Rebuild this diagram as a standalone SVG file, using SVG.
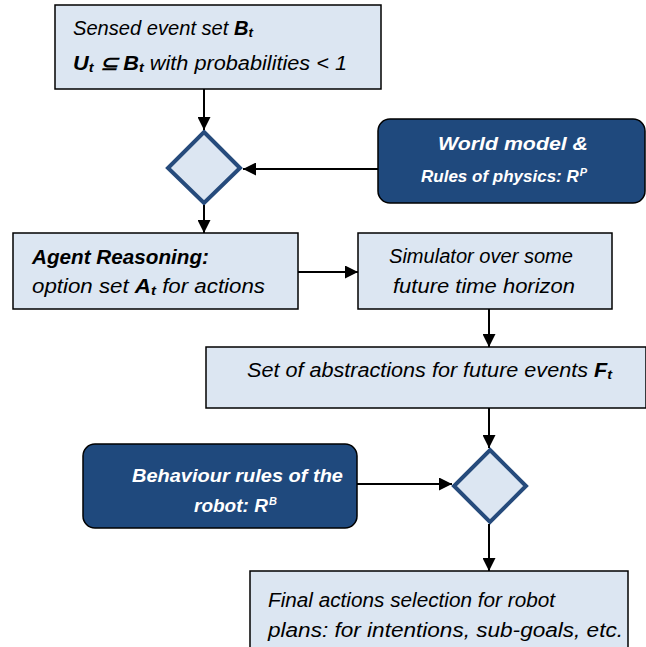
<svg xmlns="http://www.w3.org/2000/svg" width="646" height="647" viewBox="0 0 646 647">
<defs>
<style>
.box{fill:#DCE6F2;stroke:#000;stroke-width:1.5}
.dark{fill:#1F497D;stroke:#000;stroke-width:1.5}
.dia{fill:#DCE6F2;stroke:#264B7C;stroke-width:4;stroke-linejoin:miter}
.t{font-family:"Liberation Sans",Arial,sans-serif;font-style:italic;font-size:19.5px;fill:#000}
.w{font-family:"Liberation Sans",Arial,sans-serif;font-style:italic;font-weight:bold;font-size:19px;fill:#fff}
.b{font-weight:bold}
.sub{font-size:13px;font-weight:bold}
.sup{font-size:11px}
.c{stroke:#000;stroke-width:2;fill:none;marker-end:url(#ah)}
</style>
<marker id="ah" viewBox="0 0 10 10" refX="10" refY="5" markerWidth="6.5" markerHeight="6.5" markerUnits="strokeWidth" orient="auto">
<path d="M0,0 L10,5 L0,10 z" fill="#000"/>
</marker>
</defs>
<rect width="646" height="647" fill="#fff"/>

<g id="sensed">
<rect class="box" x="55" y="5" width="326" height="84"/>
<text class="t" x="73" y="35" textLength="180" lengthAdjust="spacingAndGlyphs">Sensed event set <tspan class="b">B</tspan><tspan class="sub" dy="2">t</tspan></text>
<text class="t" x="73" y="70" textLength="274" lengthAdjust="spacingAndGlyphs"><tspan class="b">U</tspan><tspan class="sub" dy="2">t</tspan><tspan dy="-2" class="b"> ⊆ B</tspan><tspan class="sub" dy="2">t</tspan><tspan dy="-2">  with probabilities &lt; 1</tspan></text>
</g>

<g id="decision1">
<polygon class="dia" points="204,132 240,168 204,203 168,168"/>
</g>

<g id="world">
<rect class="dark" x="378" y="119" width="267" height="84" rx="12"/>
<text class="w" x="438" y="150" textLength="150" lengthAdjust="spacingAndGlyphs">World model &amp;</text>
<text class="w" x="421" y="182" style="font-size:17px">Rules of physics: R<tspan class="sup" dx="1" dy="-6">P</tspan></text>
</g>

<g id="agent">
<rect class="box" x="13" y="233" width="285" height="76"/>
<text class="t b" x="32" y="264" textLength="177" lengthAdjust="spacingAndGlyphs">Agent  Reasoning:</text>
<text class="t" x="32" y="293" textLength="233" lengthAdjust="spacingAndGlyphs">option set  <tspan class="b">A</tspan><tspan class="sub" dy="2">t</tspan><tspan dy="-2">  for actions</tspan></text>
</g>

<g id="simulator">
<rect class="box" x="358" y="233" width="254" height="76"/>
<text class="t" x="389" y="263" textLength="184" lengthAdjust="spacingAndGlyphs">Simulator over some</text>
<text class="t" x="393" y="293" textLength="182" lengthAdjust="spacingAndGlyphs">future time horizon</text>
</g>

<g id="abstractions">
<rect class="box" x="206" y="347" width="440" height="61"/>
<text class="t" x="247" y="377" textLength="365" lengthAdjust="spacingAndGlyphs">Set of abstractions for future events   <tspan class="b">F</tspan><tspan class="sub" dy="2">t</tspan></text>
</g>

<g id="behaviour">
<rect class="dark" x="83" y="444" width="274" height="84" rx="12"/>
<text class="w" x="132" y="482" textLength="211" lengthAdjust="spacingAndGlyphs">Behaviour rules of the</text>
<text class="w" x="194" y="512">robot: R<tspan class="sup" dx="1" dy="-7">B</tspan></text>
</g>

<g id="decision2">
<polygon class="dia" points="490,450 526,486 490,522 454,486"/>
</g>

<g id="final">
<rect class="box" x="250" y="571" width="378" height="80"/>
<text class="t" x="268" y="607" textLength="287" lengthAdjust="spacingAndGlyphs">Final actions selection for robot</text>
<text class="t" x="268" y="637" textLength="355" lengthAdjust="spacingAndGlyphs">plans: for intentions, sub-goals, etc.</text>
</g>

<g id="connectors">
<line class="c" x1="204" y1="89" x2="204" y2="130"/>
<line class="c" x1="378" y1="169" x2="243" y2="169"/>
<line class="c" x1="204" y1="205" x2="204" y2="233"/>
<line class="c" x1="298" y1="272" x2="358" y2="272"/>
<line class="c" x1="489" y1="309" x2="489" y2="347"/>
<line class="c" x1="489" y1="408" x2="489" y2="448"/>
<line class="c" x1="357" y1="484" x2="452" y2="484"/>
<line class="c" x1="489" y1="524" x2="489" y2="571"/>
</g>
</svg>
